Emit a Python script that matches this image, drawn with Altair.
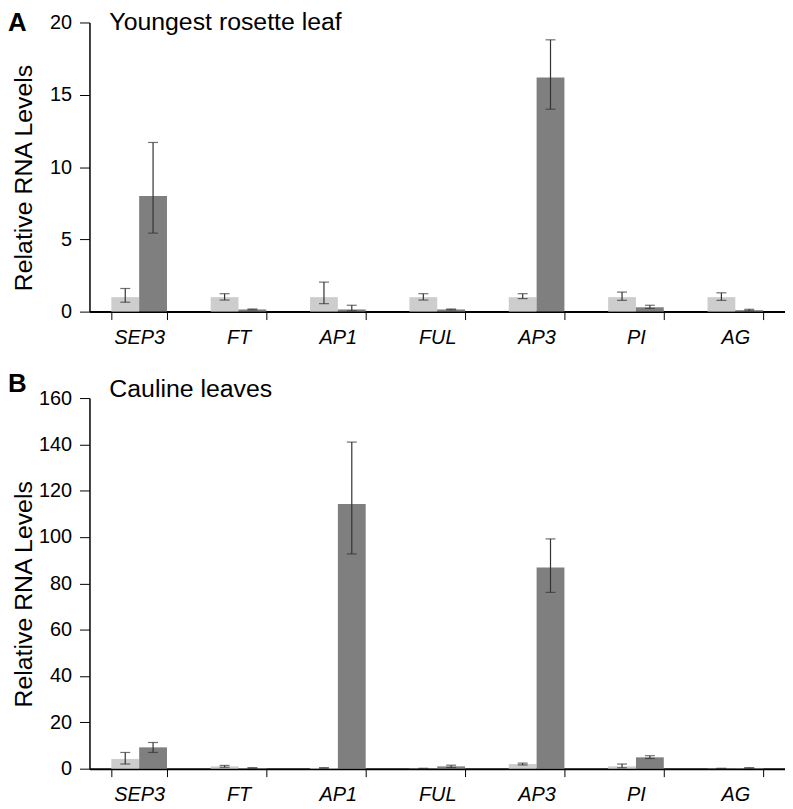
import altair as alt
import pandas as pd

genes = ["SEP3", "FT", "AP1", "FUL", "AP3", "PI", "AG"]
series_names = ["light", "dark"]

# Panel A: Youngest rosette leaf
a_light = [1.0, 1.0, 1.0, 1.0, 1.0, 1.0, 1.0]
a_light_lo = [0.65, 0.80, 0.55, 0.80, 0.90, 0.78, 0.78]
a_light_hi = [1.60, 1.24, 2.04, 1.24, 1.24, 1.35, 1.30]
a_dark = [8.0, 0.15, 0.15, 0.15, 16.2, 0.30, 0.10]
a_dark_lo = [5.43, 0.12, 0.05, 0.12, 14.0, 0.22, 0.05]
a_dark_hi = [11.7, 0.18, 0.44, 0.18, 18.8, 0.44, 0.16]

# Panel B: Cauline leaves
b_light = [4.2, 1.0, 0.3, 0.1, 2.0, 1.0, 0.1]
b_light_lo = [2.0, 0.6, 0.2, 0.05, 1.6, 0.4, 0.05]
b_light_hi = [7.0, 1.4, 0.4, 0.15, 2.4, 2.0, 0.15]
b_dark = [9.2, 0.3, 114.3, 1.0, 86.8, 4.9, 0.3]
b_dark_lo = [7.0, 0.2, 92.7, 0.5, 76.1, 4.4, 0.2]
b_dark_hi = [11.3, 0.4, 141.0, 1.5, 99.2, 5.6, 0.4]

FONT = "Liberation Sans"
LIGHT = "#cdcdcd"
DARK = "#7f7f7f"
ERR = "#333333"


def make_df(light, llo, lhi, dark, dlo, dhi):
    rows = []
    for i, g in enumerate(genes):
        rows.append({"gene": g, "series": "light", "value": light[i], "lo": llo[i], "hi": lhi[i]})
        rows.append({"gene": g, "series": "dark", "value": dark[i], "lo": dlo[i], "hi": dhi[i]})
    return pd.DataFrame(rows)


def panel(df, ymax, step, height, letter, title, letter_y, title_y, ytitle_y):
    x = alt.X(
        "gene:N",
        sort=genes,
        scale=alt.Scale(paddingInner=0.44, paddingOuter=0.22),
        axis=alt.Axis(
            title=None,
            labelAngle=0,
            labelFont=FONT,
            labelFontSize=20,
            labelFontStyle="italic",
            labelColor="black",
            labelPadding=8,
            tickBand="extent",
            tickSize=8,
            tickColor="black",
            tickWidth=1,
            domainColor="black",
            domainWidth=2,
            grid=False,
        ),
    )
    xo = alt.XOffset("series:N", sort=series_names, scale=alt.Scale(paddingInner=0, paddingOuter=0))
    yaxis = alt.Axis(
        title="Relative RNA Levels",
        values=list(range(0, ymax + 1, step)),
        labelFont=FONT,
        labelFontSize=20,
        labelColor="black",
        labelPadding=8,
        tickSize=10,
        tickColor="black",
        tickWidth=1,
        domainColor="black",
        domainWidth=1.5,
        grid=False,
        titleFont=FONT,
        titleFontSize=25,
        titleFontWeight="normal",
        titleColor="black",
        titleAngle=-90,
        titleBaseline="alphabetic",
        titleX=-58,
        titleY=ytitle_y,
    )
    base = alt.Chart(df)
    bars = base.mark_bar().encode(
        x=x,
        xOffset=xo,
        y=alt.Y("value:Q", scale=alt.Scale(domain=[0, ymax], nice=False), axis=yaxis),
        color=alt.Color("series:N", scale=alt.Scale(domain=series_names, range=[LIGHT, DARK]), legend=None),
    )
    rules = base.mark_rule(color=ERR, strokeWidth=1.2).encode(
        x=x, xOffset=xo, y=alt.Y("lo:Q"), y2="hi:Q"
    )
    cap_hi = base.mark_tick(color=ERR, thickness=1.2, size=10).encode(x=x, xOffset=xo, y="hi:Q")
    cap_lo = base.mark_tick(color=ERR, thickness=1.2, size=10).encode(x=x, xOffset=xo, y="lo:Q")
    tdf = pd.DataFrame({"letter": [letter], "title": [title]})
    let = alt.Chart(tdf).mark_text(
        font=FONT, fontSize=26, fontWeight="bold", align="left", baseline="top", color="black"
    ).encode(text="letter:N", x=alt.value(-82), y=alt.value(letter_y))
    tit = alt.Chart(tdf).mark_text(
        font=FONT, fontSize=25, align="left", baseline="top", color="black"
    ).encode(text="title:N", x=alt.value(20), y=alt.value(title_y))
    return alt.layer(bars, rules, cap_hi, cap_lo, let, tit).properties(width=700, height=height)


dfa = make_df(a_light, a_light_lo, a_light_hi, a_dark, a_dark_lo, a_dark_hi)
dfb = make_df(b_light, b_light_lo, b_light_hi, b_dark, b_dark_lo, b_dark_hi)

top = panel(dfa, 20, 5, 291, "A", "Youngest rosette leaf", -12, -12, 156)
bottom = panel(dfb, 160, 20, 373, "B", "Cauline leaves", -27, -21, 197)

chart = alt.vconcat(top, bottom, spacing=87, bounds="flush").properties(
    padding=0
).configure_view(stroke=None).resolve_scale(y="independent")

chart.save("out.html", embed_options={"renderer": "svg", "actions": False})
